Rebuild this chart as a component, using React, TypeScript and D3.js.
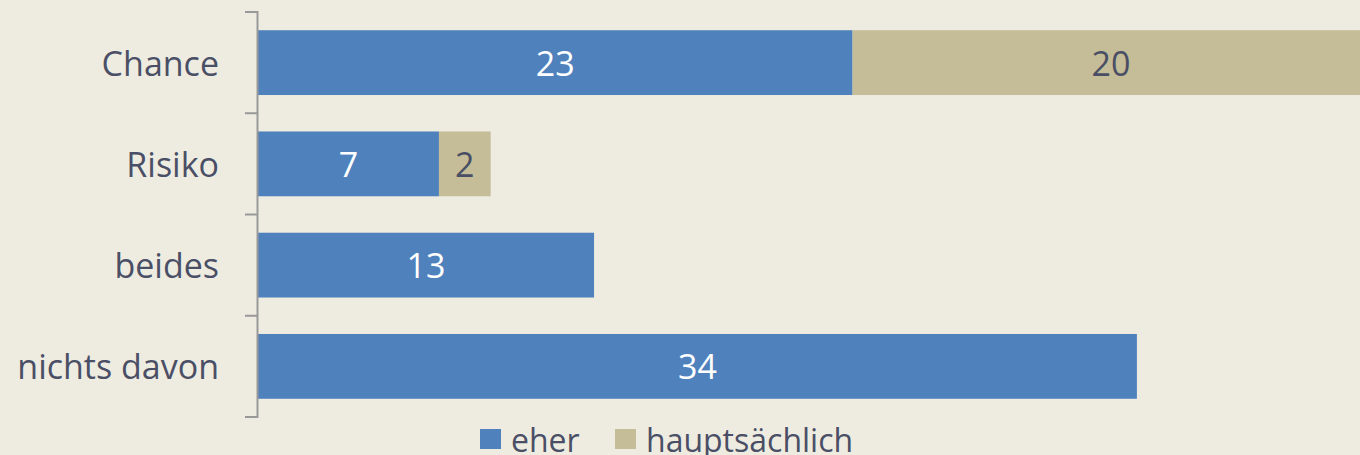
import React from "react";
import * as d3 from "d3";

const categories = ["Chance", "Risiko", "beides", "nichts davon"];
const seriesNames = ["eher", "hauptsächlich"];
const eher = [23, 7, 13, 34];
const hauptsaechlich = [20, 2, 0, 0];
const colors = ["#4F81BD", "#C4BD97"];
const labelColors = ["#FFFFFF", "#4A4F66"];

const W = 1360;
const H = 455;
const FONT = "'Open Sans', sans-serif";

export default function App() {
  const x = d3.scaleLinear().domain([0, 45]).range([258, 258 + 45 * 25.85]);
  const y = d3.scaleBand<string>().domain(categories).range([12, 417]).paddingInner(0.36).paddingOuter(0.18);

  const rows = categories.map((c, i) => ({ c, vals: [eher[i], hauptsaechlich[i]] }));
  const stack = d3.stack<any>().keys(["0", "1"]).value((d: any, k: string) => d.vals[+k]);
  const stacked = stack(rows as any);

  const ticks = [12, ...categories.map((c) => (y(c) as number) + y.bandwidth() / 2 + y.step() / 2)];
  const tickYs = d3.range(categories.length + 1).map((i) => 12 + i * y.step());

  return (
    <svg width={W} height={H} style={{ position: "absolute", left: 0, top: 0, background: "#EEECE1" }}>
      <rect x={0} y={0} width={W} height={H} fill="#EEECE1" />
      {stacked.map((s, si) =>
        s.map((d, i) => {
          const v = d[1] - d[0];
          if (v <= 0) return null;
          const x0 = x(d[0]);
          const x1 = x(d[1]);
          const yy = y(categories[i]) as number;
          return (
            <g key={si + "-" + i}>
              <rect x={x0} y={yy} width={x1 - x0} height={y.bandwidth()} fill={colors[si]} />
              <text
                x={(x0 + x1) / 2}
                y={yy + y.bandwidth() / 2}
                textAnchor="middle"
                dominantBaseline="central"
                fontFamily={FONT}
                fontSize={34}
                fill={labelColors[si]}
              >
                {v}
              </text>
            </g>
          );
        })
      )}
      <line x1={257.5} x2={257.5} y1={11} y2={418} stroke="#999999" strokeWidth={2} />
      {tickYs.map((t, i) => (
        <line key={i} x1={245} x2={258} y1={t} y2={t} stroke="#999999" strokeWidth={2} />
      ))}
      {categories.map((c) => (
        <text
          key={c}
          x={219}
          y={(y(c) as number) + y.bandwidth() / 2}
          textAnchor="end"
          dominantBaseline="central"
          fontFamily={FONT}
          fontSize={34}
          fill="#4A4F66"
        >
          {c}
        </text>
      ))}
      {seriesNames.map((n, i) => {
        const lx = [480, 615][i];
        return (
          <g key={n}>
            <rect x={lx} y={429} width={21} height={20} fill={colors[i]} />
            <text x={lx + 31} y={439} dominantBaseline="central" fontFamily={FONT} fontSize={32} fill="#4A4F66">
              {n}
            </text>
          </g>
        );
      })}
    </svg>
  );
}
